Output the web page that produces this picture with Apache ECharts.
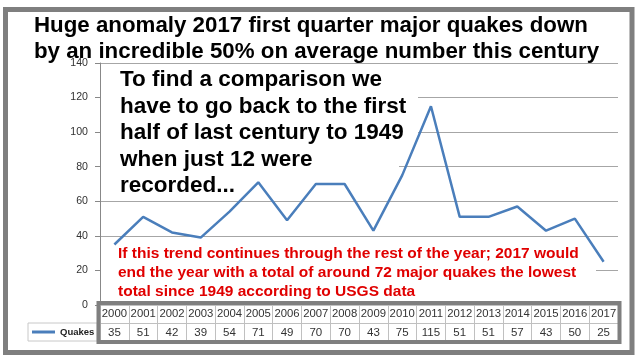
<!DOCTYPE html>
<html>
<head>
<meta charset="utf-8">
<script src="https://cdn.jsdelivr.net/npm/echarts@6/dist/echarts.min.js"></script>
<style>html,body{margin:0;padding:0;background:#fff}#c{width:640px;height:357px}</style>
</head>
<body>
<div id="c"></div>
<script>
const years = ['2000','2001','2002','2003','2004','2005','2006','2007','2008','2009','2010','2011','2012','2013','2014','2015','2016','2017'];
const quakes = [35,51,42,39,54,71,49,70,70,43,75,115,51,51,57,43,50,25];
const seriesName = 'Quakes';
const titleLines = ['Huge anomaly 2017 first quarter major quakes down','by an incredible 50% on average number this century'];
const noteLines = ['To find a comparison we','have to go back to the first','half of last century to 1949','when just 12 were','recorded...'];
const redLines = ['If this trend continues through the rest of the year; 2017 would','end the year with a total of around 72 major quakes the lowest','total since 1949 according to USGS data'];

const chart = echarts.init(document.getElementById('c'), null, {renderer:'canvas'});
const gridL = 100, gridR = 22, gridT = 63, gridB = 52;
const font = 'Liberation Sans, Arial, sans-serif';
chart.setOption({
  backgroundColor: '#fff',
  animation: false,
  grid: {left: gridL, right: gridR, top: gridT, bottom: gridB, containLabel: false},
  legend: {
    data: [{name: seriesName, icon: 'rect'}],
    left: 28, top: 323, orient: 'horizontal',
    itemWidth: 23, itemHeight: 3,
    padding: [4, 3, 4, 4],
    backgroundColor: '#fff', borderColor: '#c8c8c8', borderWidth: 1,
    textStyle: {fontFamily: font, fontWeight: 'bold', fontSize: 9.5, color: '#222'}
  },
  xAxis: [{
    type: 'category', data: years, position: 'bottom', boundaryGap: true,
    axisLine: {show: true, lineStyle: {color: '#c0c0c0'}},
    axisTick: {show: true, interval: 0, length: 37, inside: false, lineStyle: {color: '#c0c0c0'}},
    axisLabel: {interval: 0, margin: 3, fontFamily: font, fontSize: 11.3, color: '#333'},
    splitLine: {show: false}
  }, {
    type: 'category', data: years, position: 'bottom', offset: 18, boundaryGap: true,
    axisLine: {show: true, lineStyle: {color: '#c0c0c0'}},
    axisTick: {show: false},
    axisLabel: {interval: 0, margin: 4, fontFamily: font, fontSize: 11.5, color: '#333',
      formatter: (v, i) => String(quakes[i])},
    splitLine: {show: false}
  }],
  yAxis: {
    type: 'value', min: 0, max: 140, interval: 20,
    axisLine: {show: true, lineStyle: {color: '#888'}},
    axisTick: {show: true, length: 5, lineStyle: {color: '#888'}},
    axisLabel: {margin: 12, fontFamily: font, fontSize: 10.6, color: '#333'},
    splitLine: {show: true, lineStyle: {color: '#a6a6a6', width: 1}}
  },
  series: [{
    name: seriesName, type: 'line', data: quakes, xAxisIndex: 0,
    showSymbol: false, symbol: 'none', z: 10,
    lineStyle: {color: '#4a7ebb', width: 2.5},
    itemStyle: {color: '#4a7ebb'}
  }],
  graphic: [
    {type: 'rect', z: 0, shape: {x: 5.5, y: 9.5, width: 626.5, height: 343}, style: {fill: 'none', stroke: '#7f7f7f', lineWidth: 5}},
    {type: 'rect', z: 5, shape: {x: 98.5, y: 303, width: 521, height: 39}, style: {fill: 'none', stroke: '#7f7f7f', lineWidth: 4}},
    {type: 'rect', z: 3, shape: {x: 101, y: 66, width: 317, height: 96}, style: {fill: '#fff'}},
    {type: 'rect', z: 3, shape: {x: 101, y: 160, width: 298, height: 40}, style: {fill: '#fff'}},
    {type: 'rect', z: 3, shape: {x: 101, y: 242, width: 495, height: 58}, style: {fill: '#fff'}},
    {type: 'text', z: 6, x: 34, y: 12.5, style: {text: titleLines.join('\n'), fontFamily: font, fontWeight: 'bold', fontSize: 22.3, lineHeight: 26, fill: '#000'}},
    {type: 'text', z: 6, x: 120, y: 67, style: {text: noteLines.join('\n'), fontFamily: font, fontWeight: 'bold', fontSize: 22.5, lineHeight: 26.5, fill: '#000'}},
    {type: 'text', z: 6, x: 118, y: 244.5, style: {text: redLines.join('\n'), fontFamily: font, fontWeight: 'bold', fontSize: 15.5, lineHeight: 19, fill: '#e00000'}}
  ]
});
</script>
</body>
</html>
